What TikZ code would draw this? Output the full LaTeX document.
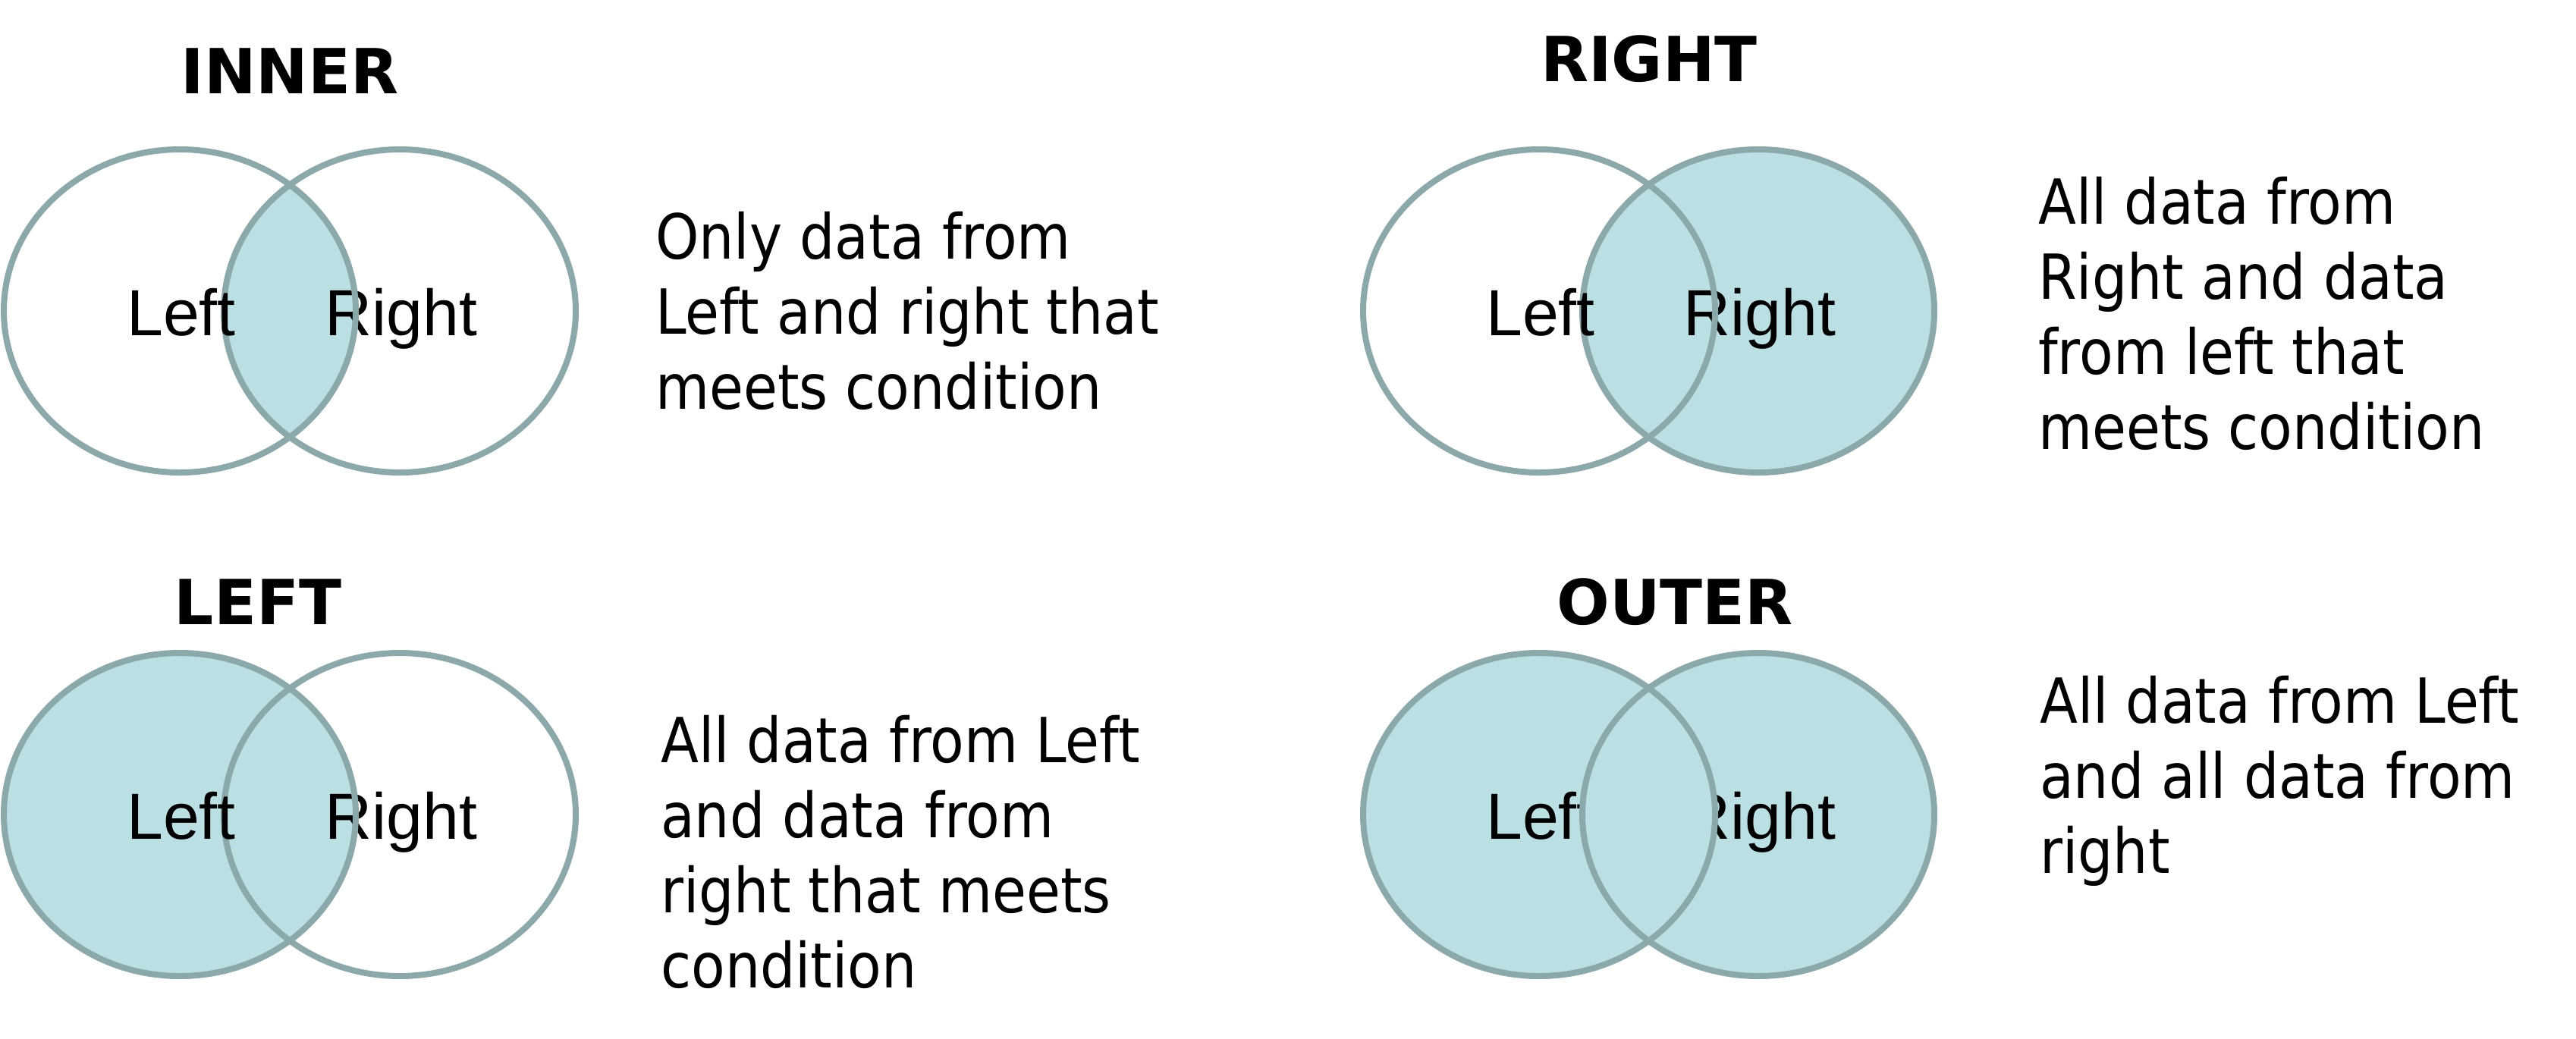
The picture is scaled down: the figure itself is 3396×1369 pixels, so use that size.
\documentclass[tikz,border=0pt]{standalone}
\usepackage{fontspec}
\newfontfamily\bodyfont[FakeStretch=0.89]{DejaVu Sans}
\newfontfamily\titlefont{DejaVu Sans}
\newfontfamily\labelfont{Liberation Sans}
\definecolor{edgec}{HTML}{8BA8AA}
\definecolor{fillc}{HTML}{BAE0E3}
\tikzset{
  edge/.style={draw=edgec, line width=8pt},
  shade/.style={fill=fillc},
  ttl/.style={font=\titlefont\bfseries\fontsize{82}{99}\selectfont, anchor=base, inner sep=0pt},
  lbl/.style={font=\labelfont\fontsize{86}{100}\selectfont, anchor=base, inner sep=0pt},
  body/.style={font=\bodyfont\fontsize{82}{99}\selectfont, anchor=north west, align=left, inner sep=0pt},
}
\def\rx{232}
\def\ry{213}
\begin{document}
\begin{tikzpicture}[x=1pt,y=-1pt]
\useasboundingbox[fill=white] (0,0) rectangle (3396,1369);

% centres
\coordinate (a1) at (237,410);  \coordinate (a2) at (527,410);   % INNER
\coordinate (b1) at (2029,410); \coordinate (b2) at (2318,410);  % RIGHT
\coordinate (c1) at (237,1074); \coordinate (c2) at (527,1074);  % LEFT
\coordinate (d1) at (2029,1074);\coordinate (d2) at (2318,1074); % OUTER

% ---------- INNER ----------
\fill[white] (a1) ellipse [x radius=\rx, y radius=\ry];
\fill[white] (a2) ellipse [x radius=\rx, y radius=\ry];
\begin{scope}
  \clip (a1) ellipse [x radius=\rx, y radius=\ry];
  \fill[fillc] (a2) ellipse [x radius=\rx, y radius=\ry];
\end{scope}
\node[lbl] (aR) at ([xshift=2]a2 |- 0,442) {Right};
\draw[edge] (a2) ellipse [x radius=\rx, y radius=\ry];
\draw[edge] (a1) ellipse [x radius=\rx, y radius=\ry];
\node[lbl] (aL) at ([xshift=2]a1 |- 0,442) {Left};
\node[ttl] (aT) at (382,123) {INNER};
\node[body] (aX) at (864,279) {Only data from\\Left and right that\\meets condition};

% ---------- RIGHT ----------
\fill[fillc] (b2) ellipse [x radius=\rx, y radius=\ry];
\node[lbl] (bR) at ([xshift=2]b2 |- 0,442) {Right};
\draw[edge] (b2) ellipse [x radius=\rx, y radius=\ry];
\draw[edge] (b1) ellipse [x radius=\rx, y radius=\ry];
\node[lbl] (bL) at ([xshift=2]b1 |- 0,442) {Left};
\node[ttl] (bT) at (2174,107) {RIGHT};
\node[body] (bX) at (2687,233) {All data from\\Right and data\\from left that\\meets condition};

% ---------- LEFT ----------
\fill[fillc] (c1) ellipse [x radius=\rx, y radius=\ry];
\node[lbl] (cR) at ([xshift=2]c2 |- 0,1106) {Right};
\draw[edge] (c2) ellipse [x radius=\rx, y radius=\ry];
\draw[edge] (c1) ellipse [x radius=\rx, y radius=\ry];
\node[lbl] (cL) at ([xshift=2]c1 |- 0,1106) {Left};
\node[ttl] (cT) at (340,823) {LEFT};
\node[body] (cX) at (871,943) {All data from Left\\and data from\\right that meets\\condition};

% ---------- OUTER ----------
\fill[fillc] (d1) ellipse [x radius=\rx, y radius=\ry];
\fill[fillc] (d2) ellipse [x radius=\rx, y radius=\ry];
\node[lbl] (dR) at ([xshift=2]d2 |- 0,1106) {Right};
\node[lbl] (dL) at ([xshift=2]d1 |- 0,1106) {Left};
\begin{scope}
  \clip (d1) ellipse [x radius=\rx, y radius=\ry];
  \fill[fillc] (d2) ellipse [x radius=\rx, y radius=\ry];
\end{scope}
\draw[edge] (d2) ellipse [x radius=\rx, y radius=\ry];
\draw[edge] (d1) ellipse [x radius=\rx, y radius=\ry];
\node[ttl] (dT) at (2208,823) {OUTER};
\node[body] (dX) at (2689,891) {All data from Left\\and all data from\\right};
\end{tikzpicture}
\end{document}
